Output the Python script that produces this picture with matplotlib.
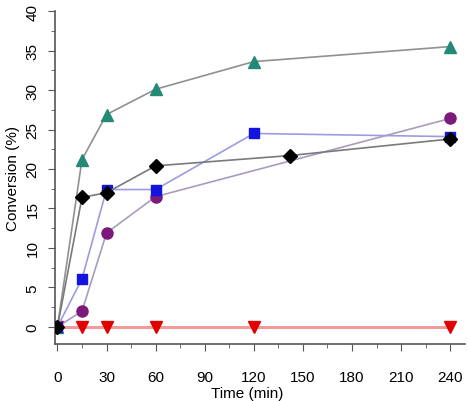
import matplotlib.pyplot as plt
from matplotlib.ticker import MultipleLocator

plt.rcParams["font.family"] = ["Liberation Sans", "DejaVu Sans"]

# time points (min) and conversion (%) per series
t_teal = [0, 15, 30, 60, 120, 240]
y_teal = [0, 21.2, 26.9, 30.1, 33.6, 35.5]

t_blue = [0, 15, 30, 60, 120, 240]
y_blue = [0, 6.1, 17.4, 17.4, 24.5, 24.1]

t_purple = [0, 15, 30, 60, 240]
y_purple = [0, 2.0, 11.9, 16.5, 26.4]

t_black = [0, 15, 30, 60, 142, 240]
y_black = [0, 16.4, 17.0, 20.4, 21.7, 23.8]

t_red = [0, 15, 30, 60, 120, 240]
y_red = [0, 0, 0, 0, 0, 0]

fig = plt.figure(figsize=(4.68, 4.02), dpi=100)
ax = fig.add_axes([0.1175, 0.142, 0.876, 0.828])

ax.plot(t_red, y_red, color="#f09a9a", lw=2.2, marker="v", ms=8.5,
        mfc="#e00000", mec="#e00000", zorder=2)
ax.plot(t_teal, y_teal, color="#909090", lw=1.2, marker="^", ms=8.5,
        mfc="#238a76", mec="#238a76", zorder=3)
ax.plot(t_purple, y_purple, color="#ab9bbf", lw=1.2, marker="o", ms=8,
        mfc="#7b1a7b", mec="#7b1a7b", zorder=3)
ax.plot(t_blue, y_blue, color="#9c9ce0", lw=1.2, marker="s", ms=7,
        mfc="#1414e0", mec="#1414e0", zorder=4)
ax.plot(t_black, y_black, color="#7a7a7a", lw=1.2, marker="D", ms=7,
        mfc="black", mec="black", zorder=5)

ax.set_xlim(-1.5, 249)
ax.set_ylim(-2.15, 40)
ax.xaxis.set_major_locator(MultipleLocator(30))
ax.xaxis.set_minor_locator(MultipleLocator(15))
ax.yaxis.set_major_locator(MultipleLocator(5))
ax.yaxis.set_minor_locator(MultipleLocator(2.5))

for s in ("top", "right"):
    ax.spines[s].set_visible(False)
for s in ("left", "bottom"):
    ax.spines[s].set_color("#555555")
    ax.spines[s].set_linewidth(1.2)

ax.tick_params(which="both", direction="out", colors="#555555", labelcolor="black",
               labelsize=11)
ax.tick_params(which="major", length=5)
ax.tick_params(which="minor", length=3)
ax.tick_params(axis="x", pad=14)
ax.tick_params(axis="y", pad=6)
for lab in ax.get_yticklabels():
    lab.set_rotation(90)
    lab.set_va("center")

ax.set_xlabel("Time (min)", fontsize=11)
ax.xaxis.set_label_coords(0.47, -0.125)
ax.set_ylabel("Conversion (%)", fontsize=11, labelpad=4)

fig.savefig("out.png", dpi=100)
